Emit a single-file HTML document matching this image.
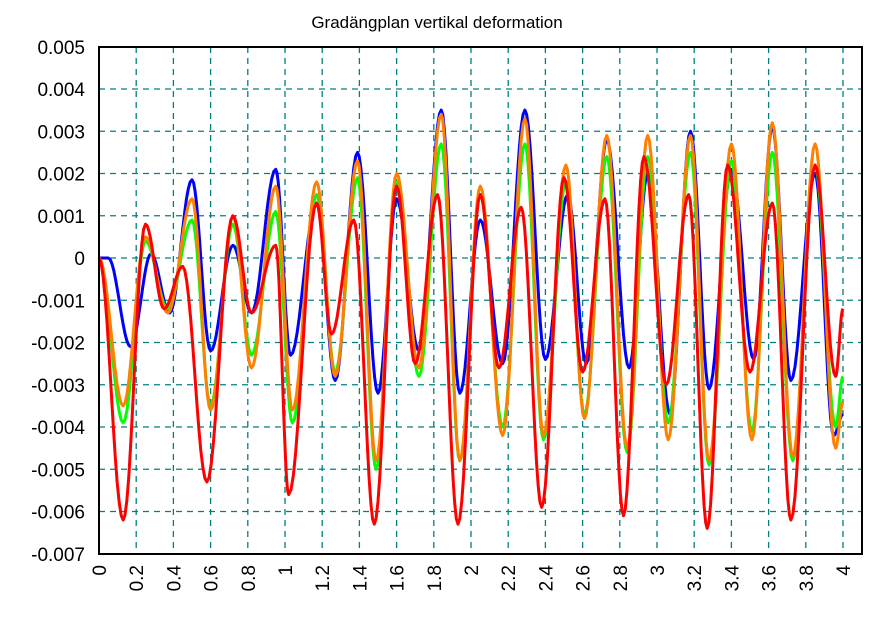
<!DOCTYPE html>
<html><head><meta charset="utf-8"><style>
html,body{margin:0;padding:0;background:#fff;}
svg{display:block;font-family:"Liberation Sans",sans-serif;}
</style></head><body>
<svg id="s" width="880" height="626" xmlns="http://www.w3.org/2000/svg">
<rect width="880" height="626" fill="#fff"/>
<text x="437" y="28" font-size="17" text-anchor="middle">Gradängplan vertikal deformation</text>
<g id="grid" stroke="#008080" stroke-width="1.3" stroke-dasharray="6,5"></g>
<g id="lab" font-size="19" fill="#000"></g>
<g id="ser" fill="none" stroke-width="3" stroke-linejoin="round"></g>
<rect x="99" y="47" width="763" height="507" fill="none" stroke="#000" stroke-width="2"/>
</svg>
<script>
var X0=99,SX=(843-99)/4,Y0=258,SY=42.25;
function px(x){return X0+x*SX}function py(v){return Y0-v*SY}
var g=document.getElementById('grid'),l=document.getElementById('lab'),ns="http://www.w3.org/2000/svg";
function el(p,t,a,txt){var e=document.createElementNS(ns,t);for(var k in a)e.setAttribute(k,a[k]);if(txt!=null)e.textContent=txt;p.appendChild(e);return e}
for(var i=1;i<=20;i++){var x=px(i*0.2);el(g,'line',{x1:x,x2:x,y1:47,y2:554});}
for(var v=-6;v<=4;v++){var y=py(v);el(g,'line',{x1:99,x2:862,y1:y,y2:y});}
var yl=["0.005","0.004","0.003","0.002","0.001","0","-0.001","-0.002","-0.003","-0.004","-0.005","-0.006","-0.007"];
for(var i=0;i<13;i++){el(l,'text',{x:85,y:py(5-i)+7,'text-anchor':'end'},yl[i]);}
var xl=["0","0.2","0.4","0.6","0.8","1","1.2","1.4","1.6","1.8","2","2.2","2.4","2.6","2.8","3","3.2","3.4","3.6","3.8","4"];
for(var i=0;i<=20;i++){var x=px(i*0.2)+7;el(l,'text',{x:x,y:565,'text-anchor':'end',transform:'rotate(-90 '+x+' 565)'},xl[i]);}
var S={
blue:[0,0,0.05,0,0.17,-2.1,0.28,0.1,0.38,-1.3,0.5,1.85,0.6,-2.2,0.72,0.3,0.82,-1.3,0.95,2.1,1.03,-2.3,1.17,1.3,1.27,-2.9,1.39,2.5,1.5,-3.2,1.6,1.4,1.72,-2.2,1.84,3.5,1.94,-3.2,2.05,0.9,2.17,-2.5,2.29,3.5,2.4,-2.4,2.52,1.5,2.62,-2.5,2.73,2.8,2.85,-2.6,2.95,2.0,3.07,-3.7,3.18,3.0,3.28,-3.1,3.4,2.1,3.52,-2.4,3.62,3.1,3.72,-2.9,3.85,2.0,3.95,-4.2,4.0,-3.7],
red:[0,0,0.13,-6.2,0.25,0.8,0.35,-1.2,0.45,-0.2,0.58,-5.3,0.72,1.0,0.82,-1.3,0.95,0.3,1.02,-5.6,1.17,1.3,1.25,-1.8,1.37,0.9,1.48,-6.3,1.6,1.7,1.7,-2.5,1.82,1.5,1.93,-6.3,2.05,1.5,2.15,-2.6,2.27,1.2,2.38,-5.9,2.5,1.9,2.6,-2.7,2.72,1.4,2.82,-6.1,2.93,2.4,3.05,-3.0,3.17,1.5,3.27,-6.4,3.38,2.2,3.5,-2.7,3.62,1.3,3.72,-6.2,3.85,2.2,3.96,-2.8,4.0,-1.2],
lime:[0,0,0.13,-3.9,0.25,0.4,0.37,-1.2,0.5,0.9,0.6,-3.5,0.72,0.8,0.82,-2.3,0.95,1.1,1.04,-3.9,1.17,1.5,1.27,-2.7,1.39,1.9,1.49,-5.0,1.6,1.8,1.72,-2.8,1.84,2.7,1.94,-4.8,2.05,1.5,2.17,-4.0,2.29,2.7,2.39,-4.3,2.51,1.8,2.61,-3.7,2.73,2.4,2.84,-4.6,2.95,2.4,3.06,-3.9,3.18,2.5,3.28,-4.9,3.4,2.3,3.51,-4.1,3.62,2.5,3.73,-4.8,3.85,2.2,3.96,-4.0,4.0,-2.8],
"#ff8000":[0,0,0.13,-3.5,0.25,0.5,0.37,-1.3,0.5,1.4,0.6,-3.6,0.72,1.0,0.82,-2.6,0.95,1.7,1.04,-3.6,1.17,1.8,1.27,-2.8,1.39,2.3,1.49,-4.8,1.6,2.0,1.72,-2.6,1.84,3.4,1.94,-4.8,2.05,1.7,2.17,-4.2,2.29,3.3,2.39,-4.2,2.51,2.2,2.61,-3.8,2.73,2.9,2.84,-4.5,2.95,2.9,3.06,-4.3,3.18,2.9,3.28,-4.8,3.4,2.7,3.51,-4.3,3.62,3.2,3.73,-4.7,3.85,2.7,3.96,-4.5,4.0,-3.4]};
var sg=document.getElementById('ser');
["blue","lime","#ff8000","red"].forEach(function(c){var a=S[c],d="";
for(var i=0;i+3<a.length;i+=2){var x1=a[i],v1=a[i+1],x2=a[i+2],v2=a[i+3];
for(var k=0;k<=12;k++){var t=k/12,f=(1-Math.cos(Math.PI*t))/2;var x=x1+(x2-x1)*t,v=v1+(v2-v1)*f;d+=(d?"L":"M")+px(x).toFixed(1)+","+py(v).toFixed(1);}}
el(sg,'path',{d:d,stroke:c});});
</script>
</body></html>
